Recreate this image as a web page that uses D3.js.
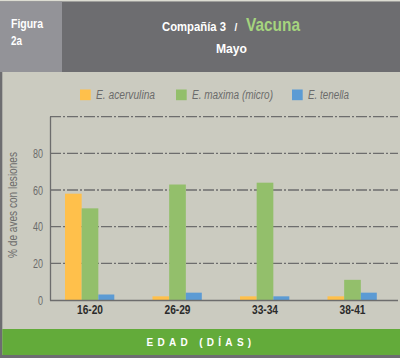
<!DOCTYPE html>
<html><head><meta charset="utf-8">
<script src="https://cdn.jsdelivr.net/npm/d3@7"></script>
<style>html,body{margin:0;padding:0;background:#cbcbc0;}svg{display:block;}</style>
</head><body>
<script>
const categories = ["16-20", "26-29", "33-34", "38-41"];
const seriesNames = ["E. acervulina", "E. maxima (micro)", "E. tenella"];
const acervulina = [58, 2, 2, 2];
const maxima = [50, 63, 64, 11];
const tenella = [3, 4, 2, 4];
const yTicks = [0, 20, 40, 60, 80];
const gridValues = [20, 40, 60, 80, 100];
const colors = ["#ffc04b", "#93bf6b", "#5c9bd4"];

const W = 400, H = 358;
const FONT = "'Liberation Sans',Arial,sans-serif";
const svg = d3.select("body").append("svg").attr("width", W).attr("height", H);

function txt(sel, len) {
  return sel.attr("textLength", len).attr("lengthAdjust", "spacingAndGlyphs");
}

// backgrounds
svg.append("rect").attr("x",0).attr("y",0).attr("width",W).attr("height",H).attr("fill","#cbcbc0");
svg.append("rect").attr("x",0).attr("y",0).attr("width",W).attr("height",1.5).attr("fill","#dcdcd2");
svg.append("rect").attr("x",0).attr("y",1.5).attr("width",W).attr("height",70.5).attr("fill","#6d6d70");
svg.append("rect").attr("x",0).attr("y",1.5).attr("width",62).attr("height",70.5).attr("fill","#939398");
svg.append("rect").attr("x",0).attr("y",72).attr("width",2.3).attr("height",H-72).attr("fill","#6d6d70");
svg.append("rect").attr("x",2.3).attr("y",329).attr("width",W).attr("height",26).attr("fill","#63ab3a");
svg.append("rect").attr("x",0).attr("y",355).attr("width",W).attr("height",3).attr("fill","#6d6d70");

// header text
txt(svg.append("text").attr("x",11).attr("y",28).attr("fill","#fff").attr("font-family",FONT)
  .attr("font-weight","bold").attr("font-size",13).text("Figura"), 32);
txt(svg.append("text").attr("x",11).attr("y",44.5).attr("fill","#fff").attr("font-family",FONT)
  .attr("font-weight","bold").attr("font-size",13).text("2a"), 11);
txt(svg.append("text").attr("x",162).attr("y",31).attr("fill","#fff").attr("font-family",FONT)
  .attr("font-weight","bold").attr("font-size",12).text("Compañía 3"), 64);
svg.append("text").attr("x",234.5).attr("y",31).attr("fill","#fff").attr("font-family",FONT)
  .attr("font-weight","bold").attr("font-size",10).text("/");
txt(svg.append("text").attr("x",246).attr("y",31).attr("fill","#a5d47e").attr("font-family",FONT)
  .attr("font-weight","bold").attr("font-size",19).text("Vacuna"), 54);
txt(svg.append("text").attr("x",216).attr("y",53).attr("fill","#fff")
  .attr("font-family",FONT).attr("font-weight","bold").attr("font-size",13.5).text("Mayo"), 31);

// scales
const x0 = d3.scaleBand().domain(categories).range([50, 400]).padding(0);
const x1 = d3.scaleBand().domain(seriesNames).range([15, 65]).padding(0);
const y = d3.scaleLinear().domain([0, 100]).range([300, 116.7]);

// grid
svg.append("g").selectAll("line").data(gridValues).join("line")
  .attr("x1",50).attr("x2",398).attr("y1",d=>y(d)).attr("y2",d=>y(d))
  .attr("stroke","#6d6d6d").attr("stroke-width",1.3).attr("stroke-dasharray","11,2,2,2");

// bars
const series = [acervulina, maxima, tenella];
const g = svg.append("g");
categories.forEach((c, i) => {
  seriesNames.forEach((s, j) => {
    g.append("rect")
      .attr("x", x0(c) + x1(s))
      .attr("y", y(series[j][i]))
      .attr("width", x1.bandwidth() - (j===2 ? 0.7 : 0))
      .attr("height", y(0) - y(series[j][i]))
      .attr("fill", colors[j]);
  });
});

// axes lines
svg.append("line").attr("x1",50.5).attr("x2",50.5).attr("y1",y(100)).attr("y2",300.5)
  .attr("stroke","#6d6d6d").attr("stroke-width",1.3);
svg.append("line").attr("x1",50).attr("x2",398).attr("y1",300.5).attr("y2",300.5)
  .attr("stroke","#6d6d6d").attr("stroke-width",1.3);

// y tick labels
svg.append("g").selectAll("text").data(yTicks).join("text")
  .attr("x",43).attr("y",d=>y(d)+4.5).attr("text-anchor","end")
  .attr("fill","#6b6b6b").attr("font-family",FONT).attr("font-size",12)
  .attr("textLength", d => d === 0 ? 5 : 10).attr("lengthAdjust","spacingAndGlyphs").text(d=>d);

// x tick labels
svg.append("g").selectAll("text").data(categories).join("text")
  .attr("x",d=>x0(d)+27).attr("y",313.5)
  .attr("fill","#2a2a2a").attr("font-family",FONT).attr("font-weight","bold").attr("font-size",12.5)
  .attr("textLength",26).attr("lengthAdjust","spacingAndGlyphs").text(d=>d);

// y label
txt(svg.append("text").attr("transform","translate(16.5,258) rotate(-90)")
  .attr("fill","#6b6b6b").attr("font-family",FONT).attr("font-size",12).text("% de aves con lesiones"), 106);

// legend
const legX = [80, 176, 292];
const legLen = [59, 81, 41];
seriesNames.forEach((s, j) => {
  svg.append("rect").attr("x",legX[j]).attr("y",89.5).attr("width",10.7).attr("height",10.7).attr("fill",colors[j]);
  txt(svg.append("text").attr("x",legX[j]+16).attr("y",99).attr("fill","#6b6b6b").attr("font-family",FONT)
    .attr("font-style","italic").attr("font-size",12).text(s), legLen[j]);
});

// x axis title
svg.append("text").attr("x",201).attr("y",346).attr("text-anchor","middle").attr("fill","#fff")
  .attr("font-family",FONT).attr("font-weight","bold").attr("font-size",10)
  .attr("letter-spacing",4.3).text("EDAD (DÍAS)");
</script>
</body></html>
